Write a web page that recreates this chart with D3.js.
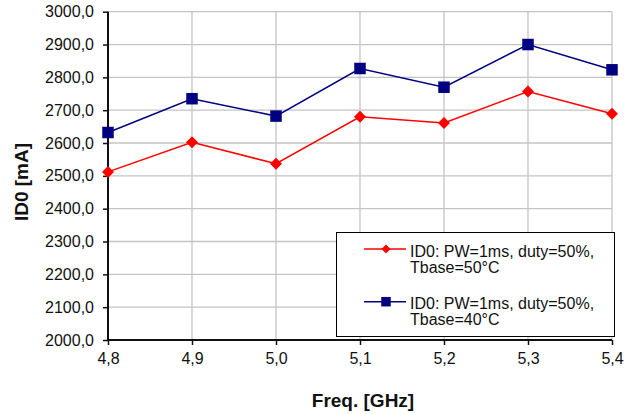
<!DOCTYPE html>
<html><head><meta charset="utf-8">
<script src="https://cdn.jsdelivr.net/npm/d3@7"></script>
<style>body{margin:0;background:#fff}svg{display:block}text{font-family:"Liberation Sans",Arial,sans-serif}</style>
</head><body>
<svg id="c" width="634" height="414"></svg>
<script>
const freqs = [4.8, 4.9, 5.0, 5.1, 5.2, 5.3, 5.4];
const id50 = [2512, 2602, 2537, 2680, 2661, 2757, 2689];
const id40 = [2632, 2735, 2682, 2827, 2770, 2900, 2823];
const seriesNames = ["ID0: PW=1ms, duty=50%,|Tbase=50°C", "ID0: PW=1ms, duty=50%,|Tbase=40°C"];
const yTicks = [2000, 2100, 2200, 2300, 2400, 2500, 2600, 2700, 2800, 2900, 3000];
const xTitle = "Freq. [GHz]";
const yTitle = "ID0 [mA]";

const svg = d3.select("#c");
const L = 108, R = 612, T = 11.7, B = 340;
const x = d3.scaleLinear().domain([4.8, 5.4]).range([L, R]);
const y = d3.scaleLinear().domain([2000, 3000]).range([B, T]);
const fmt = v => d3.format(".1f")(v).replace(".", ",");

// grid
const g = svg.append("g");
g.selectAll("line.h").data(yTicks).join("line")
  .attr("x1", L).attr("x2", R).attr("y1", d => y(d)).attr("y2", d => y(d))
  .attr("stroke", "#c4c4c4").attr("stroke-width", 1.3);
g.selectAll("line.v").data(freqs).join("line")
  .attr("y1", T).attr("y2", B).attr("x1", d => x(d)).attr("x2", d => x(d))
  .attr("stroke", "#c4c4c4").attr("stroke-width", 1.3);

// axes
const ya = svg.append("g").attr("transform", `translate(${L},0)`)
  .call(d3.axisLeft(y).tickValues(yTicks).tickFormat(fmt).tickSize(5).tickPadding(9));
const xa = svg.append("g").attr("transform", `translate(0,${B})`)
  .call(d3.axisBottom(x).tickValues(freqs).tickFormat(fmt).tickSize(5).tickPadding(8));
[ya, xa].forEach(a => {
  a.select(".domain").attr("stroke", "#111").attr("stroke-width", 2);
  a.selectAll(".tick line").attr("stroke", "#111").attr("stroke-width", 1.5);
  a.selectAll("text").attr("font-size", 16).attr("fill", "#111")
    .attr("font-family", "Liberation Sans, Arial, sans-serif");
});
xa.select(".domain").attr("d", `M${L},0H${R}`);
ya.select(".domain").attr("d", `M0,${B}V${T}`);

// series
const line = d3.line().x((d, i) => x(freqs[i])).y(d => y(d));
const series = [
  {vals: id50, color: "#ff0000", shape: "diamond"},
  {vals: id40, color: "#000080", shape: "square"}
];
function marker(sel, shape, color, s) {
  if (shape === "square") {
    sel.append("rect").attr("x", -s / 2).attr("y", -s / 2).attr("width", s).attr("height", s).attr("fill", color);
  } else {
    const h = s / 2;
    sel.append("path").attr("d", `M0,${-h}L${h},0L0,${h}L${-h},0Z`).attr("fill", color);
  }
}
series.forEach(s => {
  svg.append("path").datum(s.vals).attr("d", line).attr("fill", "none")
    .attr("stroke", s.color).attr("stroke-width", 1.5);
  svg.append("g").selectAll("g").data(s.vals).join("g")
    .attr("transform", (d, i) => `translate(${x(freqs[i])},${y(d)})`)
    .each(function () { marker(d3.select(this), s.shape, s.color, s.shape === "square" ? 11.5 : 12); });
});

// legend
const lg = svg.append("g");
lg.append("rect").attr("x", 336.5).attr("y", 232.5).attr("width", 278).attr("height", 104)
  .attr("fill", "#fff").attr("stroke", "#000").attr("stroke-width", 1);
const ly = [249, 301.7];
series.forEach((s, i) => {
  lg.append("line").attr("x1", 364).attr("x2", 406).attr("y1", ly[i]).attr("y2", ly[i])
    .attr("stroke", s.color).attr("stroke-width", 1.5);
  const m = lg.append("g").attr("transform", `translate(386,${ly[i]})`);
  marker(m, s.shape, s.color, s.shape === "square" ? 9.5 : 9);
  const parts = seriesNames[i].split("|");
  parts.forEach((p, k) => {
    lg.append("text").attr("x", 410).attr("y", ly[i] + 7.5 + k * 16.2).attr("font-size", 16)
      .attr("fill", "#111").text(p);
  });
});

// titles
svg.append("text").attr("x", 363).attr("y", 407).attr("text-anchor", "middle")
  .attr("font-size", 19).attr("font-weight", "bold").attr("fill", "#111").text(xTitle);
svg.append("text").attr("transform", "translate(28,182) rotate(-90)").attr("text-anchor", "middle")
  .attr("font-size", 19).attr("font-weight", "bold").attr("fill", "#111").text(yTitle);
</script>
</body></html>
